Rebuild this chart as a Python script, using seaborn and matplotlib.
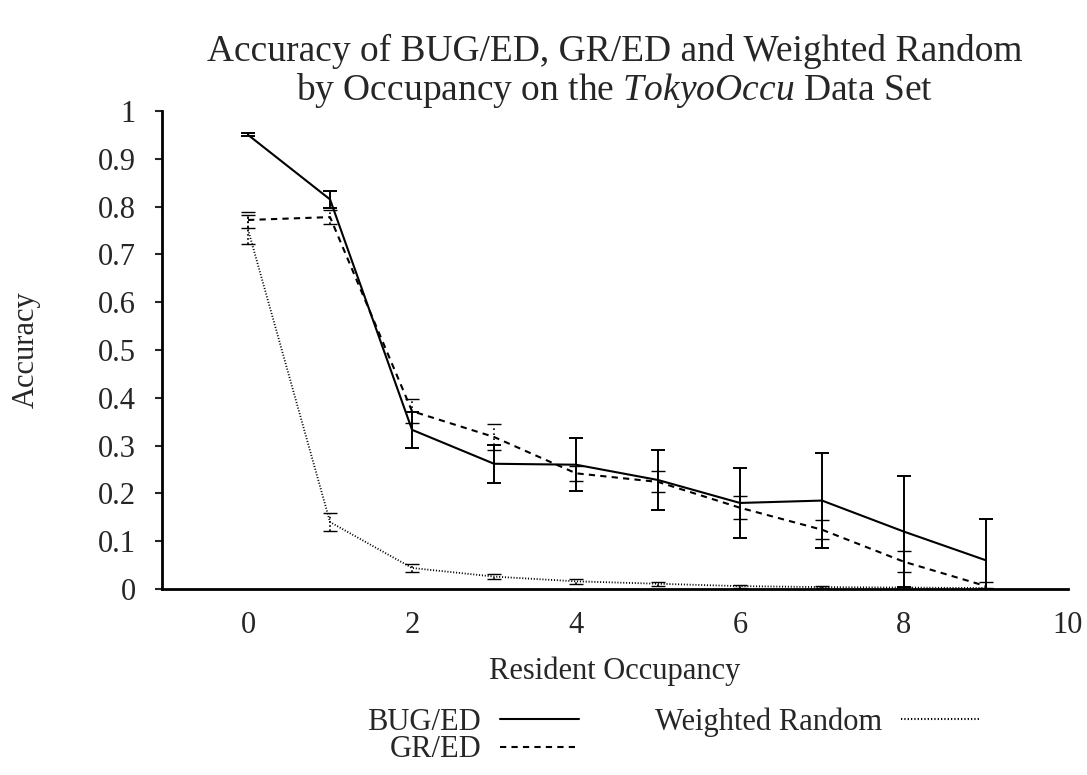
import numpy as np
import pandas as pd
import matplotlib
matplotlib.use("Agg")
import matplotlib.pyplot as plt
import seaborn as sns

# --- Data ---
occupancy = [0, 1, 2, 3, 4, 5, 6, 7, 8, 9]
methods = ["BUG/ED", "GR/ED", "Weighted Random"]

bug_ed = [0.950, 0.815, 0.333, 0.262, 0.260, 0.228, 0.180, 0.185, 0.120, 0.060]
bug_ed_err = [0.003, 0.018, 0.038, 0.040, 0.055, 0.063, 0.074, 0.100, 0.116, 0.086]
gr_ed = [0.772, 0.778, 0.372, 0.318, 0.242, 0.224, 0.170, 0.124, 0.057, 0.006]
gr_ed_err = [0.016, 0.015, 0.025, 0.027, 0.016, 0.022, 0.024, 0.020, 0.022, 0.008]
weighted_random = [0.752, 0.140, 0.044, 0.026, 0.016, 0.011, 0.006, 0.004, 0.003, 0.002]
weighted_random_err = [0.030, 0.018, 0.008, 0.005, 0.005, 0.004, 0.003, 0.002, 0.002, 0.001]

x_ticks = [0, 2, 4, 6, 8, 10]
y_ticks = [0, 0.1, 0.2, 0.3, 0.4, 0.5, 0.6, 0.7, 0.8, 0.9, 1.0]
y_tick_labels = ["0", "0.1", "0.2", "0.3", "0.4", "0.5", "0.6", "0.7", "0.8", "0.9", "1"]

values = {"BUG/ED": bug_ed, "GR/ED": gr_ed, "Weighted Random": weighted_random}
errors = {"BUG/ED": bug_ed_err, "GR/ED": gr_ed_err, "Weighted Random": weighted_random_err}

df = pd.DataFrame({
    "Resident Occupancy": occupancy * 3,
    "Accuracy": bug_ed + gr_ed + weighted_random,
    "Method": [m for m in methods for _ in occupancy],
})

# --- Style ---
sns.set_style("white")
plt.rcParams["font.family"] = ["Liberation Serif", "DejaVu Serif"]
plt.rcParams["mathtext.fontset"] = "custom"
plt.rcParams["mathtext.rm"] = "Liberation Serif"
plt.rcParams["mathtext.it"] = "Liberation Serif:italic"

dash_styles = {"BUG/ED": "", "GR/ED": (3, 2.5), "Weighted Random": (0.6, 1.0)}
line_widths = {"BUG/ED": 1.5, "GR/ED": 1.5, "Weighted Random": 1.3}
bar_styles = {"BUG/ED": "-", "GR/ED": (0, (1, 2)), "Weighted Random": (0, (1, 1.5))}

fig = plt.figure(figsize=(10.87, 7.75), dpi=100)
ax = fig.add_axes([0.149, 0.240, 0.8335, 0.6168])

sns.lineplot(data=df, x="Resident Occupancy", y="Accuracy", hue="Method", style="Method",
             palette={m: "black" for m in methods}, dashes=dash_styles,
             linewidth=1.5, ax=ax)

for line, m in zip(ax.get_lines(), methods):
    line.set_linewidth(line_widths[m])

# --- Error bars ---
for m in methods:
    eb = ax.errorbar(occupancy, values[m], yerr=errors[m], fmt="none", ecolor="black",
                     elinewidth=1.4 if m == "BUG/ED" else 1.2, capsize=5,
                     capthick=1.4 if m == "BUG/ED" else 1.0)
    eb[2][0].set_linestyle(bar_styles[m])

ax.set_xlim(-1.05, 10)
ax.set_ylim(0, 1)
ax.set_xticks(x_ticks)
ax.set_yticks(y_ticks)
ax.set_yticklabels(y_tick_labels)
ax.tick_params(axis="x", length=0, pad=16, labelsize=22)
ax.tick_params(axis="y", length=5, width=1.5, pad=14, labelsize=22, direction="out", left=True)

for side in ["top", "right"]:
    ax.spines[side].set_visible(False)
for side in ["left", "bottom"]:
    ax.spines[side].set_linewidth(2.0)
    ax.spines[side].set_color("black")

ax.set_xlabel("Resident Occupancy", fontsize=22)
ax.xaxis.set_label_coords(0.5, -0.142)
ax.set_ylabel("Accuracy", fontsize=22)
ax.yaxis.set_label_coords(-0.134, 0.5)

ax.set_title("Accuracy of BUG/ED, GR/ED and Weighted Random\n"
             "by Occupancy on the $\\mathit{TokyoOccu}$ Data Set",
             fontsize=27, pad=8, linespacing=1.05)

sns.move_legend(ax, "upper center", bbox_to_anchor=(0.565, -0.19), ncol=2,
                markerfirst=False, frameon=False, title=None, fontsize=22,
                handlelength=2.6, labelspacing=-0.05, columnspacing=2.5, handletextpad=0.6)

fig.savefig("out.png", dpi=100)
